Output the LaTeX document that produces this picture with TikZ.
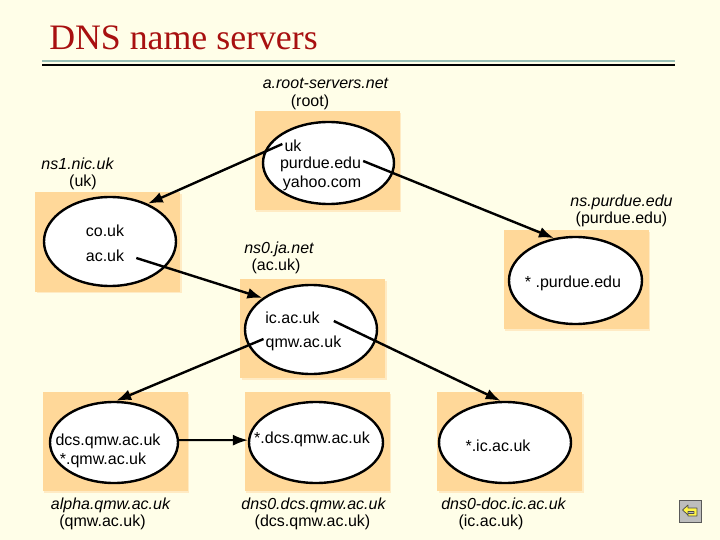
\documentclass[tikz,border=0pt]{standalone}
\usepackage{fontspec}
\usepackage{xcolor}
\setmainfont{Liberation Sans}
\newfontfamily\titlefont{Liberation Serif}
\usetikzlibrary{positioning,shapes.geometric,arrows.meta}
\definecolor{paper}{HTML}{FFFEE8}
\definecolor{zone}{HTML}{FFD899}
\definecolor{zoneedge}{HTML}{FFEBC4}
\definecolor{titlered}{HTML}{A81010}
\definecolor{ruleteal}{HTML}{98BEB4}
\definecolor{btngray}{HTML}{BDBDBD}

\begin{document}
\begin{tikzpicture}[x=1pt,y=-1pt,
    zonebox/.style={fill=zone,inner sep=0pt,outer sep=0pt,minimum width=145pt,minimum height=99pt,
      preaction={fill=zoneedge,transform canvas={shift={(1.5pt,-1.5pt)}}}},
    server/.style={ellipse,draw,fill=white,line width=2.4pt,inner sep=0pt},
    entry/.style={font=\fontsize{16}{16}\selectfont,inner sep=2pt,text height=14pt,text depth=3pt},
    host/.style={entry,font=\fontsize{16}{16}\selectfont\itshape},
    link/.style={line width=2.4pt,-{Latex[length=15pt,width=11pt]}}]
  \useasboundingbox (0,0) rectangle (720,540);
  \fill[paper] (0,0) rectangle (720,540);
  % title
  \node[font=\fontsize{35.8}{36}\selectfont\titlefont,text=titlered,inner sep=0pt] (title) at (183.5,38) {DNS name servers};
  \coordinate (ruleA) at (42,61);
  \coordinate (ruleB) at (675,61);
  \coordinate (ruleC) at (42,64.7);
  \coordinate (ruleD) at (675,64.7);
  \draw[ruleteal,line width=2.2pt] (ruleA) -- (ruleB);
  \draw[black,line width=2.2pt] (ruleC) -- (ruleD);
  % zones
  \node[zonebox] (zroot) at (327,161) {};
  \node[zonebox] (zuk) at (107.5,242) {};
  \node[zonebox] (zac) at (312.5,328.5) {};
  \node[zonebox] (zpurdue) at (576,279.5) {};
  \node[zonebox] (zqmw) at (115,441.5) {};
  \node[zonebox] (zdcs) at (317,441.5) {};
  \node[zonebox] (zic) at (509.5,441.5) {};
  % servers
  \node[server,minimum width=131pt,minimum height=82pt] (sroot) at (328.5,163) {};
  \node[server,minimum width=132pt,minimum height=89pt] (suk) at (110,241.5) {};
  \node[server,minimum width=132pt,minimum height=89pt] (sac) at (311,329.5) {};
  \node[server,minimum width=133pt,minimum height=87pt] (spurdue) at (575.5,280.5) {};
  \node[server,minimum width=128pt,minimum height=81pt] (sqmw) at (114,442.5) {};
  \node[server,minimum width=134pt,minimum height=81pt] (sdcs) at (316,442.5) {};
  \node[server,minimum width=132pt,minimum height=81pt] (sic) at (505,442.5) {};
  % entries
  \node[entry] (tuk) at (293,146) {uk};
  \node[entry] (tpurdue) at (320.5,163) {purdue.edu};
  \node[entry] (tyahoo) at (322,182) {yahoo.com};
  \node[entry] (tco) at (105,231) {co.uk};
  \node[entry] (tac) at (105,256) {ac.uk};
  \node[entry] (tic) at (292.5,318) {ic.ac.uk};
  \node[entry] (tqmw) at (303.5,342) {qmw.ac.uk};
  \node[entry] (tstar) at (573,282) {* .purdue.edu};
  \node[entry] (tdcs) at (108,440) {dcs.qmw.ac.uk};
  \node[entry] (tsqmw) at (103,459) {*.qmw.ac.uk};
  \node[entry] (tsdcs) at (312,438) {*.dcs.qmw.ac.uk};
  \node[entry] (tsic) at (498,446) {*.ic.ac.uk};
  % host names
  \node[host] (hroot) at (325.5,83) {a.root-servers.net};
  \node[entry] (lroot) at (310,101) {(root)};
  \node[host] (huk) at (77.5,164) {ns1.nic.uk};
  \node[entry] (luk) at (83,181) {(uk)};
  \node[host] (hac) at (279,248) {ns0.ja.net};
  \node[entry] (lac) at (276,265) {(ac.uk)};
  \node[host] (hpurdue) at (621.5,201) {ns.purdue.edu};
  \node[entry] (lpurdue) at (621.5,218) {(purdue.edu)};
  \node[host] (hqmw) at (110.5,504) {alpha.qmw.ac.uk};
  \node[entry] (lqmw) at (102.5,521) {(qmw.ac.uk)};
  \node[host] (hdcs) at (313.5,504) {dns0.dcs.qmw.ac.uk};
  \node[entry] (ldcs) at (312.5,521) {(dcs.qmw.ac.uk)};
  \node[host] (hic) at (503.5,504) {dns0-doc.ic.ac.uk};
  \node[entry] (lic) at (491,521) {(ic.ac.uk)};
  % delegations
  \draw[link] ([yshift=2pt]tuk.west) -- (suk.45);
  \draw[link] ([yshift=2pt]tpurdue.east) -- (spurdue.117);
  \draw[link] ([xshift=10pt,yshift=-2pt]tac.east) -- (sac.147);
  \draw[link] ([yshift=3pt]tqmw.west) -- (sqmw.87);
  \draw[link] ([xshift=12pt,yshift=-3pt]tic.east) -- (sic.96);
  \draw[link,line width=2pt] (sqmw.2) -- (sdcs.178);
  % back button
  \node[fill=btngray,draw=gray!70!black,line width=.5pt,minimum width=22pt,minimum height=22pt,inner sep=0pt] (back) at (690.5,511) {};
  \draw[fill=yellow!70!paper,draw=black!70,line width=.7pt,line join=round]
    (682.5,510) -- (688,505) -- (688,508) -- (697,508) -- (697,516) -- (688,516) -- (688,513.5) -- (694,513.5) -- (694,511.5) -- (688,511.5) -- (688,515) -- cycle;
\end{tikzpicture}
\end{document}
